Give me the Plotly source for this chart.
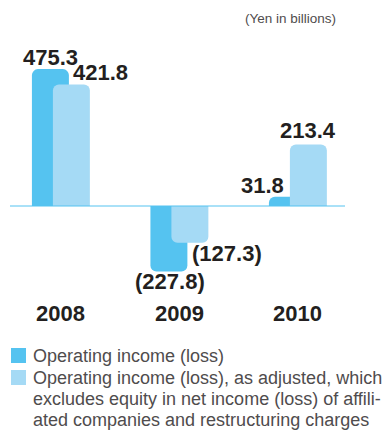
import plotly.graph_objects as go

# ---- data ----
years = ["2008", "2009", "2010"]
operating = [475.3, -227.8, 31.8]
adjusted = [421.8, -127.3, 213.4]
op_labels = ["475.3", "(227.8)", "31.8"]
adj_labels = ["421.8", "(127.3)", "213.4"]
legend_main = "Operating income (loss)"
legend_adj_lines = [
    "Operating income (loss), as adjusted, which",
    "excludes equity in net income (loss) of affili-",
    "ated companies and restructuring charges",
]
unit_label = "(Yen in billions)"

# ---- style ----
DARK = "#55c3f0"
LIGHT = "#a5daf5"
TEXT = "#231f20"
GRAY = "#4f4c4d"
FONT = "Liberation Sans, Arial, Helvetica, sans-serif"

W, H = 387, 437
ML, MR, MT, MB = 10, 42, 40, 137
PW, PH = W - ML - MR, H - MT - MB


def px_x(p):
    return (p - ML) / PW


def px_y(q):
    return (MT + PH - q) / PH


fig = go.Figure()
fig.add_trace(go.Bar(
    x=years, y=operating, name=legend_main,
    marker=dict(color=DARK, cornerradius=6, line=dict(width=0)),
    width=0.312, offset=-0.245, showlegend=False, hoverinfo="skip",
))
fig.add_trace(go.Bar(
    x=years, y=adjusted, name=legend_adj_lines[0],
    marker=dict(color=LIGHT, cornerradius=6, line=dict(width=0)),
    width=0.312, offset=-0.068, showlegend=False, hoverinfo="skip",
))

annotations = []
# value labels (pixel shifts relative to each bar end)
op_shift = [(-10, 12), (-9.5, -10), (-35, 11)]
adj_shift = [(40, 12), (47.5, -11), (10, 14)]
for i, yr in enumerate(years):
    for val, lab, (dx, dy) in ((operating[i], op_labels[i], op_shift[i]),
                               (adjusted[i], adj_labels[i], adj_shift[i])):
        annotations.append(dict(
            x=i, y=val, xref="x", yref="y", text=lab, showarrow=False,
            xshift=dx, yshift=dy, xanchor="center", yanchor="middle",
            font=dict(family=FONT, size=22, color=TEXT, weight="bold"),
        ))
    # year labels
    annotations.append(dict(
        x=i, y=px_y(313), xref="x", yref="paper", text=yr, showarrow=False,
        xanchor="center", yanchor="middle",
        font=dict(family=FONT, size=22, color=TEXT, weight="bold"),
    ))

annotations.append(dict(
    x=px_x(338), y=px_y(18), xref="paper", yref="paper", text=unit_label,
    showarrow=False, xanchor="right", yanchor="middle",
    font=dict(family=FONT, size=13.5, color=GRAY),
))

# legend (manual)
legend_lines = [legend_main] + legend_adj_lines
line_y = [356, 378, 399, 420]
for t, yy in zip(legend_lines, line_y):
    annotations.append(dict(
        x=px_x(31), y=px_y(yy), xref="paper", yref="paper", text=t,
        showarrow=False, xanchor="left", yanchor="middle",
        font=dict(family=FONT, size=18, color=GRAY),
    ))

shapes = [
    dict(type="line", xref="paper", yref="y", x0=0, x1=1, y0=0, y1=0,
         line=dict(color=DARK, width=1)),
    dict(type="rect", xref="paper", yref="paper",
         x0=px_x(11), x1=px_x(26), y0=px_y(348), y1=px_y(363),
         fillcolor=DARK, line=dict(width=0)),
    dict(type="rect", xref="paper", yref="paper",
         x0=px_x(11), x1=px_x(26), y0=px_y(370), y1=px_y(385),
         fillcolor=LIGHT, line=dict(width=0)),
]

fig.update_layout(
    width=W, height=H,
    margin=dict(l=ML, r=MR, t=MT, b=MB, pad=0),
    paper_bgcolor="white", plot_bgcolor="white",
    barmode="overlay",
    xaxis=dict(type="category", range=[-0.430, 2.397], showticklabels=False,
               showgrid=False, zeroline=False, showline=False, ticks="",
               fixedrange=True),
    yaxis=dict(range=[-326.4, 576.4], showticklabels=False, showgrid=False,
               zeroline=False, showline=False, ticks="", fixedrange=True),
    annotations=annotations,
    shapes=shapes,
    showlegend=False,
)

fig.write_html("out.html", config={"displayModeBar": False})
